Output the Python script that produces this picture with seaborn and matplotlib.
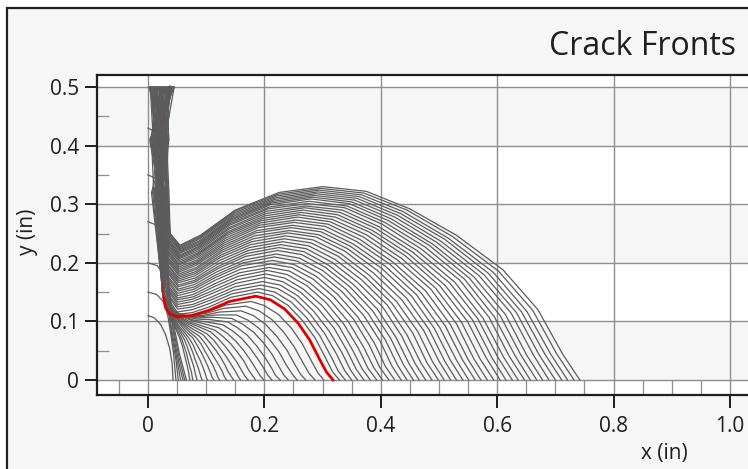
import matplotlib
matplotlib.use("Agg")
import pandas as pd
import matplotlib.pyplot as plt
import seaborn as sns
from matplotlib.patches import Rectangle
from matplotlib.ticker import MultipleLocator

# crack fronts, (x, y) in inches
# early corner-crack fronts (before the crack reaches y = 0.5)
corner_fronts = [
    [(0, .110), (.011, .106), (.0215, .095), (.030, .078), (.037, .055), (.0415, .0285), (.043, 0)],
    [(0, .150), (.015, .146), (.027, .133), (.034, .110), (.039, .080), (.044, .045), (.048, 0)],
    [(0, .200), (.016, .195), (.027, .180), (.032, .150), (.036, .110), (.042, .070), (.048, .035), (.052, 0)],
    [(0, .270), (.016, .264), (.027, .245), (.031, .200), (.034, .140), (.040, .090), (.048, .045), (.056, 0)],
    [(0, .350), (.016, .343), (.027, .320), (.031, .260), (.033, .180), (.038, .120), (.047, .060), (.054, .025), (.060, 0)],
    [(0, .430), (.016, .422), (.027, .395), (.031, .330), (.033, .240), (.035, .160), (.043, .090), (.053, .040), (.063, 0)],
    [(.005, .500), (.020, .470), (.028, .420), (.031, .340), (.033, .250), (.035, .170), (.043, .100), (.054, .045), (.066, 0)],
]

# through fronts drawn before the highlighted one
lower_fronts = [
    [(.006, .5), (.012, .41), (.018, .32), (.025, .150), (.029, .126), (.038, .108), (.045, .094), (.050, .082), (.055, .070), (.059, .058), (.062, .046), (.065, .034), (.068, .022), (.070, .012), (.071, .005), (.072, 0)],
    [(.015, .5), (.006, .41), (.010, .32), (.025, .150), (.029, .126), (.039, .108), (.046, .094), (.052, .082), (.058, .070), (.062, .058), (.066, .046), (.069, .034), (.072, .022), (.075, .012), (.076, .005), (.077, 0)],
    [(.010, .5), (.020, .41), (.025, .32), (.025, .150), (.030, .126), (.040, .108), (.048, .094), (.055, .082), (.062, .070), (.067, .058), (.071, .046), (.075, .034), (.079, .022), (.081, .012), (.083, .005), (.084, 0)],
    [(.024, .5), (.016, .41), (.008, .32), (.025, .150), (.031, .126), (.041, .108), (.050, .094), (.058, .082), (.066, .071), (.072, .059), (.077, .047), (.081, .035), (.086, .022), (.089, .012), (.091, .005), (.093, 0)],
    [(.004, .5), (.009, .41), (.021, .32), (.025, .150), (.032, .126), (.043, .108), (.052, .094), (.061, .083), (.071, .071), (.078, .059), (.083, .047), (.089, .035), (.094, .023), (.098, .012), (.100, .005), (.102, 0)],
    [(.019, .5), (.026, .41), (.014, .32), (.025, .150), (.033, .126), (.044, .108), (.055, .095), (.065, .083), (.077, .072), (.084, .060), (.091, .048), (.097, .036), (.103, .023), (.107, .013), (.110, .005), (.113, 0)],
    [(.030, .5), (.014, .41), (.028, .32), (.025, .150), (.033, .125), (.046, .108), (.058, .095), (.069, .084), (.082, .073), (.091, .062), (.098, .049), (.105, .037), (.112, .024), (.117, .013), (.120, .005), (.123, 0)],
    [(.012, .5), (.022, .41), (.016, .32), (.025, .149), (.034, .125), (.047, .108), (.060, .096), (.073, .085), (.088, .075), (.098, .063), (.106, .051), (.114, .038), (.122, .025), (.128, .014), (.131, .006), (.135, 0)],
    [(.027, .5), (.005, .41), (.023, .32), (.025, .149), (.035, .124), (.049, .108), (.063, .096), (.077, .087), (.095, .077), (.105, .065), (.115, .053), (.124, .040), (.132, .026), (.138, .014), (.143, .006), (.147, 0)],
    [(.008, .5), (.030, .41), (.012, .32), (.025, .149), (.036, .124), (.051, .108), (.066, .097), (.082, .089), (.101, .079), (.113, .068), (.123, .055), (.133, .042), (.142, .028), (.150, .015), (.155, .006), (.159, 0)],
    [(.034, .5), (.018, .41), (.027, .32), (.025, .149), (.038, .123), (.053, .108), (.069, .098), (.087, .091), (.108, .082), (.120, .071), (.132, .058), (.143, .044), (.153, .030), (.161, .016), (.167, .006), (.172, 0)],
    [(.021, .5), (.011, .41), (.020, .32), (.026, .148), (.039, .122), (.055, .108), (.073, .099), (.091, .093), (.115, .085), (.128, .075), (.142, .062), (.154, .047), (.165, .032), (.173, .017), (.180, .007), (.185, 0)],
    [(.040, .5), (.027, .41), (.031, .32), (.026, .148), (.040, .121), (.057, .109), (.076, .101), (.096, .096), (.122, .089), (.137, .079), (.151, .066), (.164, .051), (.176, .034), (.186, .018), (.193, .007), (.199, 0)],
    [(.016, .5), (.024, .41), (.017, .32), (.026, .147), (.041, .120), (.059, .109), (.079, .102), (.101, .099), (.129, .094), (.145, .084), (.161, .071), (.175, .055), (.188, .037), (.199, .020), (.206, .008), (.213, 0)],
    [(.002, .5), (.033, .41), (.006, .32), (.026, .146), (.042, .119), (.061, .109), (.083, .104), (.107, .103), (.137, .099), (.154, .089), (.171, .076), (.186, .059), (.200, .040), (.212, .021), (.219, .008), (.227, 0)],
    [(.036, .5), (.008, .41), (.024, .32), (.026, .145), (.043, .118), (.064, .109), (.086, .106), (.112, .107), (.144, .105), (.163, .095), (.181, .082), (.198, .064), (.213, .044), (.225, .023), (.233, .009), (.241, 0)],
    [(.011, .5), (.019, .41), (.013, .32), (.026, .144), (.045, .116), (.066, .109), (.090, .108), (.117, .111), (.152, .111), (.172, .102), (.191, .088), (.209, .069), (.225, .048), (.238, .025), (.248, .010), (.256, 0)],
    [(.025, .5), (.029, .41), (.030, .32), (.027, .143), (.046, .114), (.068, .109), (.094, .110), (.123, .116), (.160, .118), (.181, .110), (.202, .095), (.221, .075), (.238, .052), (.252, .027), (.262, .010), (.271, 0)],
    [(.043, .5), (.003, .41), (.019, .32), (.027, .142), (.047, .112), (.070, .110), (.097, .113), (.129, .122), (.168, .126), (.191, .118), (.213, .103), (.233, .082), (.251, .057), (.266, .030), (.277, .011), (.287, 0)],
    [(.007, .5), (.015, .41), (.026, .32), (.027, .141), (.049, .110), (.073, .110), (.101, .116), (.134, .128), (.177, .134), (.200, .127), (.224, .112), (.246, .089), (.265, .062), (.281, .032), (.292, .012), (.302, 0)],
]

# highlighted front (red)
red_front = [(.038, .5), (.018, .41), (.024, .32), (.027, .140), (.030, .124), (.037, .113), (.050, .108), (.075, .110), (.105, .119), (.140, .134), (.185, .143), (.210, .137), (.235, .121), (.258, .097), (.278, .068), (.295, .035), (.307, .013), (.318, 0)]

# through fronts drawn after the highlighted one
upper_fronts = [
    [(.018, .5), (.028, .41), (.015, .32), (.028, .144), (.050, .112), (.076, .115), (.106, .125), (.142, .141), (.188, .150), (.214, .144), (.241, .127), (.265, .102), (.287, .072), (.305, .038), (.317, .014), (.329, 0)],
    [(.009, .5), (.015, .41), (.022, .32), (.028, .148), (.050, .116), (.076, .120), (.107, .131), (.144, .147), (.191, .156), (.218, .150), (.246, .133), (.272, .107), (.295, .076), (.314, .041), (.327, .015), (.339, 0)],
    [(.039, .5), (.010, .41), (.027, .32), (.028, .152), (.051, .121), (.077, .125), (.109, .137), (.147, .153), (.194, .162), (.223, .156), (.252, .139), (.279, .112), (.303, .080), (.324, .044), (.338, .016), (.350, 0)],
    [(.029, .5), (.031, .41), (.013, .32), (.028, .155), (.051, .125), (.077, .129), (.110, .142), (.149, .159), (.197, .168), (.227, .162), (.257, .144), (.285, .117), (.311, .084), (.333, .047), (.348, .017), (.360, 0)],
    [(.003, .5), (.021, .41), (.034, .32), (.029, .159), (.051, .129), (.077, .134), (.111, .148), (.151, .165), (.200, .175), (.231, .168), (.262, .150), (.292, .122), (.320, .088), (.342, .050), (.358, .018), (.371, 0)],
    [(.044, .5), (.008, .41), (.029, .32), (.029, .162), (.051, .133), (.077, .138), (.112, .153), (.153, .171), (.202, .181), (.235, .174), (.267, .155), (.299, .127), (.328, .092), (.351, .052), (.368, .019), (.382, 0)],
    [(.032, .5), (.035, .41), (.012, .32), (.029, .166), (.051, .137), (.078, .142), (.113, .159), (.155, .177), (.205, .187), (.239, .180), (.273, .161), (.306, .132), (.336, .096), (.361, .055), (.378, .020), (.393, 0)],
    [(.013, .5), (.025, .41), (.019, .32), (.029, .169), (.051, .140), (.078, .146), (.114, .164), (.157, .183), (.208, .192), (.243, .186), (.278, .166), (.312, .137), (.344, .100), (.370, .057), (.388, .021), (.403, 0)],
    [(.015, .5), (.006, .41), (.023, .32), (.030, .173), (.051, .144), (.079, .151), (.115, .170), (.159, .189), (.211, .198), (.247, .192), (.284, .172), (.319, .142), (.353, .104), (.380, .060), (.398, .022), (.414, 0)],
    [(.025, .5), (.019, .41), (.033, .32), (.030, .176), (.051, .148), (.079, .155), (.116, .175), (.161, .195), (.214, .204), (.251, .197), (.289, .177), (.326, .146), (.361, .107), (.389, .063), (.408, .023), (.424, 0)],
    [(.043, .5), (.017, .41), (.029, .32), (.030, .179), (.052, .152), (.080, .159), (.118, .180), (.164, .200), (.217, .210), (.256, .203), (.295, .182), (.333, .151), (.370, .111), (.399, .066), (.419, .024), (.435, 0)],
    [(.036, .5), (.034, .41), (.011, .32), (.030, .182), (.052, .155), (.080, .163), (.119, .185), (.166, .205), (.220, .215), (.260, .208), (.300, .187), (.340, .155), (.378, .114), (.408, .068), (.429, .025), (.445, 0)],
    [(.024, .5), (.031, .41), (.017, .32), (.031, .186), (.052, .159), (.080, .167), (.120, .190), (.168, .211), (.223, .221), (.264, .214), (.305, .192), (.347, .159), (.386, .118), (.417, .071), (.439, .026), (.456, 0)],
    [(.005, .5), (.012, .41), (.026, .32), (.031, .189), (.052, .162), (.080, .170), (.121, .194), (.170, .216), (.225, .226), (.268, .219), (.310, .196), (.353, .163), (.394, .121), (.426, .073), (.449, .027), (.466, 0)],
    [(.010, .5), (.024, .41), (.032, .32), (.031, .192), (.052, .166), (.081, .174), (.122, .199), (.172, .221), (.228, .231), (.272, .224), (.316, .201), (.360, .167), (.403, .125), (.436, .075), (.459, .028), (.477, 0)],
    [(.020, .5), (.028, .41), (.030, .32), (.031, .195), (.052, .169), (.081, .178), (.123, .204), (.174, .226), (.231, .236), (.276, .229), (.321, .206), (.367, .171), (.411, .128), (.445, .077), (.469, .029), (.488, 0)],
    [(.037, .5), (.013, .41), (.021, .32), (.032, .198), (.052, .172), (.082, .182), (.124, .209), (.176, .231), (.234, .241), (.280, .234), (.327, .211), (.374, .175), (.419, .131), (.455, .080), (.479, .030), (.499, 0)],
    [(.042, .5), (.007, .41), (.016, .32), (.032, .200), (.052, .175), (.082, .185), (.125, .213), (.178, .236), (.237, .246), (.284, .239), (.332, .215), (.380, .179), (.427, .134), (.464, .082), (.489, .031), (.509, 0)],
    [(.006, .5), (.029, .41), (.010, .32), (.033, .203), (.053, .178), (.083, .189), (.127, .218), (.181, .241), (.240, .251), (.289, .244), (.338, .220), (.387, .183), (.436, .137), (.474, .084), (.500, .032), (.520, 0)],
    [(.031, .5), (.022, .41), (.032, .32), (.033, .206), (.053, .181), (.083, .192), (.128, .222), (.183, .246), (.243, .255), (.293, .248), (.343, .224), (.394, .187), (.444, .140), (.483, .086), (.510, .032), (.530, 0)],
    [(.028, .5), (.004, .41), (.030, .32), (.033, .209), (.053, .184), (.083, .196), (.129, .226), (.185, .251), (.246, .260), (.297, .253), (.348, .228), (.401, .191), (.453, .143), (.492, .088), (.520, .033), (.541, 0)],
    [(.011, .5), (.033, .41), (.024, .32), (.033, .211), (.053, .187), (.083, .199), (.130, .230), (.187, .255), (.248, .264), (.301, .257), (.353, .232), (.408, .194), (.461, .146), (.501, .090), (.530, .034), (.551, 0)],
    [(.040, .5), (.020, .41), (.025, .32), (.034, .214), (.053, .190), (.084, .202), (.131, .234), (.189, .260), (.251, .269), (.305, .262), (.359, .236), (.415, .198), (.469, .149), (.511, .092), (.540, .035), (.562, 0)],
    [(.026, .5), (.017, .41), (.020, .32), (.034, .217), (.053, .193), (.084, .205), (.132, .238), (.191, .264), (.254, .273), (.309, .266), (.364, .240), (.421, .201), (.477, .152), (.520, .094), (.550, .035), (.572, 0)],
    [(.014, .5), (.033, .41), (.014, .32), (.034, .220), (.053, .196), (.085, .209), (.133, .242), (.193, .268), (.257, .278), (.313, .270), (.370, .244), (.428, .205), (.486, .155), (.530, .096), (.560, .036), (.583, 0)],
    [(.045, .5), (.029, .41), (.034, .32), (.034, .222), (.053, .198), (.085, .212), (.134, .246), (.195, .272), (.260, .282), (.317, .274), (.375, .248), (.435, .208), (.494, .157), (.539, .098), (.570, .037), (.594, 0)],
    [(.034, .5), (.016, .41), (.033, .32), (.035, .224), (.054, .201), (.086, .215), (.136, .250), (.198, .276), (.263, .286), (.322, .278), (.381, .252), (.442, .212), (.502, .160), (.549, .100), (.581, .038), (.605, 0)],
    [(.017, .5), (.010, .41), (.027, .32), (.035, .226), (.054, .204), (.086, .217), (.137, .253), (.200, .280), (.266, .290), (.326, .282), (.386, .255), (.448, .215), (.510, .162), (.558, .102), (.591, .038), (.615, 0)],
    [(.021, .5), (.027, .41), (.026, .32), (.035, .229), (.054, .207), (.086, .220), (.138, .257), (.202, .284), (.269, .294), (.330, .286), (.391, .259), (.455, .218), (.519, .165), (.567, .104), (.601, .039), (.626, 0)],
    [(.035, .5), (.024, .41), (.018, .32), (.035, .231), (.054, .209), (.086, .223), (.139, .260), (.204, .288), (.271, .297), (.334, .290), (.396, .262), (.462, .221), (.527, .167), (.576, .105), (.611, .039), (.636, 0)],
    [(.045, .5), (.009, .41), (.019, .32), (.036, .233), (.054, .211), (.087, .226), (.140, .264), (.206, .292), (.274, .301), (.338, .294), (.402, .266), (.469, .224), (.536, .170), (.586, .107), (.621, .040), (.647, 0)],
    [(.007, .5), (.035, .41), (.031, .32), (.036, .235), (.054, .213), (.087, .228), (.141, .267), (.208, .295), (.277, .305), (.342, .297), (.407, .269), (.476, .227), (.544, .172), (.595, .108), (.631, .041), (.657, 0)],
    [(.002, .5), (.023, .41), (.035, .32), (.036, .237), (.054, .216), (.088, .231), (.142, .270), (.210, .299), (.280, .309), (.346, .301), (.413, .272), (.483, .230), (.552, .174), (.605, .110), (.641, .042), (.668, 0)],
    [(.028, .5), (.014, .41), (.029, .32), (.036, .239), (.054, .218), (.088, .233), (.143, .273), (.212, .302), (.283, .312), (.350, .304), (.418, .275), (.489, .232), (.560, .176), (.614, .112), (.651, .042), (.678, 0)],
    [(.030, .5), (.036, .41), (.022, .32), (.037, .241), (.055, .220), (.089, .236), (.145, .276), (.215, .305), (.286, .315), (.355, .307), (.424, .278), (.496, .235), (.569, .178), (.624, .114), (.662, .043), (.689, 0)],
    [(.041, .5), (.026, .41), (.025, .32), (.037, .243), (.055, .222), (.089, .238), (.146, .279), (.217, .308), (.289, .318), (.359, .310), (.429, .281), (.503, .237), (.577, .180), (.633, .115), (.672, .043), (.700, 0)],
    [(.038, .5), (.012, .41), (.028, .32), (.038, .245), (.055, .224), (.089, .241), (.147, .282), (.219, .311), (.292, .321), (.363, .313), (.434, .284), (.510, .240), (.585, .182), (.642, .116), (.682, .044), (.711, 0)],
    [(.022, .5), (.020, .41), (.033, .32), (.038, .247), (.055, .226), (.089, .243), (.148, .285), (.221, .314), (.294, .324), (.367, .316), (.439, .287), (.516, .242), (.593, .184), (.651, .117), (.692, .044), (.721, 0)],
    [(.019, .5), (.030, .41), (.034, .32), (.038, .249), (.055, .228), (.090, .245), (.149, .288), (.223, .317), (.297, .327), (.371, .319), (.445, .290), (.523, .245), (.602, .186), (.661, .119), (.702, .045), (.732, 0)],
    [(.033, .5), (.032, .41), (.036, .32), (.038, .250), (.055, .230), (.090, .247), (.150, .290), (.225, .320), (.300, .330), (.375, .322), (.450, .292), (.530, .247), (.610, .188), (.670, .120), (.712, .045), (.742, 0)],
]

x_ticks = [0, 0.2, 0.4, 0.6, 0.8, 1.0]
x_tick_labels = ["0", "0.2", "0.4", "0.6", "0.8", "1.0"]
y_ticks = [0, 0.1, 0.2, 0.3, 0.4, 0.5]
y_tick_labels = ["0", "0.1", "0.2", "0.3", "0.4", "0.5"]


def fronts_to_frame(fronts):
    rows = []
    for i, pts in enumerate(fronts):
        for k, (x, y) in enumerate(pts):
            rows.append((i, k, x, y))
    return pd.DataFrame(rows, columns=["front", "step", "x", "y"])


plt.rcParams["font.family"] = ["Open Sans", "DejaVu Sans"]

W, H = 748, 469
fig = plt.figure(figsize=(W / 100, H / 100), dpi=100, facecolor="white")

# outer panel frame (only left and top edges are inside the picture)
fig.add_artist(Rectangle((7 / W, -0.1), 1.2, (H - 8) / H + 0.1, transform=fig.transFigure,
                         facecolor="#f6f6f6", edgecolor="#1e1e1e", lw=1.6, zorder=-5))

ax = fig.add_axes([97 / W, 74 / H, (763 - 97) / W, 320 / H])
ax.set_facecolor("white")
for lo, hi in [(0, 0.1), (0.2, 0.3), (0.4, 0.5)]:
    ax.axhspan(lo, hi, color="#f6f6f6", zorder=0, lw=0)

gray = "#5c5c5c"
sns.lineplot(data=fronts_to_frame(corner_fronts + lower_fronts), x="x", y="y", units="front",
             estimator=None, sort=False, color=gray, linewidth=0.9, ax=ax, legend=False)
sns.lineplot(data=fronts_to_frame([red_front]), x="x", y="y", units="front",
             estimator=None, sort=False, color="#e10000", linewidth=2.0, ax=ax, legend=False)
sns.lineplot(data=fronts_to_frame(upper_fronts), x="x", y="y", units="front",
             estimator=None, sort=False, color=gray, linewidth=0.9, ax=ax, legend=False)

ax.set_xlim(-0.0876, 1.0567)
ax.set_ylim(-0.0256, 0.5205)
ax.set_xlabel("")
ax.set_ylabel("")

ax.set_xticks(x_ticks, x_tick_labels)
ax.set_yticks(y_ticks, y_tick_labels)
ax.xaxis.set_minor_locator(MultipleLocator(0.05))
ax.yaxis.set_minor_locator(MultipleLocator(0.05))
ax.grid(True, which="major", color="#8e8e8e", lw=1.0)
ax.set_axisbelow(True)

ax.tick_params(which="major", direction="out", length=9, width=1.4, color="#1e1e1e",
               labelsize=15, labelcolor="#1e1e1e")
ax.tick_params(axis="x", which="major", pad=6)
ax.tick_params(axis="y", which="major", pad=4)
ax.tick_params(axis="x", which="minor", direction="in", length=10.8, width=0.9, color="#8e8e8e")
ax.tick_params(axis="y", which="minor", direction="in", length=8.6, width=0.9, color="#8e8e8e")

for side in ["left", "top", "bottom"]:
    ax.spines[side].set_color("#1e1e1e")
    ax.spines[side].set_linewidth(1.6)
ax.spines["right"].set_visible(False)

fig.text(736 / W, 1 - 55 / H, "Crack Fronts", ha="right", va="baseline", fontsize=23, color="#1e1e1e")
fig.text(664 / W, 1 - 459 / H, "x (in)", ha="center", va="baseline", fontsize=15, color="#1e1e1e")
fig.text(27 / W, 1 - 232 / H, "y (in)", ha="center", va="center", rotation=90, fontsize=15, color="#1e1e1e")

fig.savefig("out.png", dpi=100, facecolor=fig.get_facecolor())
